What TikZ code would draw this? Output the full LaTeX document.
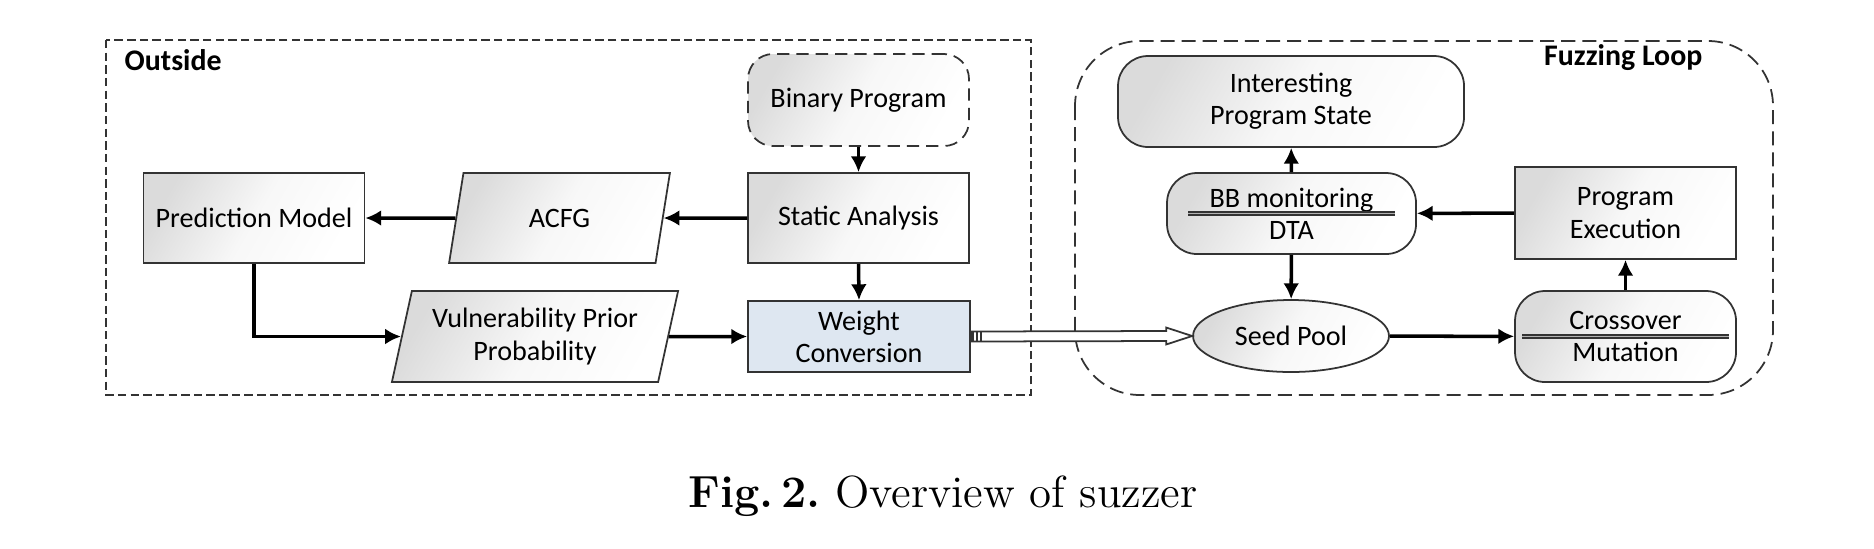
\documentclass[tikz,border=0pt]{standalone}
\usepackage{fontspec}
\newfontfamily\calibri{Carlito}
\usetikzlibrary{arrows.meta}
\usetikzlibrary{calc}
\usetikzlibrary{shapes.geometric}

\definecolor{wcblue}{RGB}{222,231,241}

\begin{document}
\begin{tikzpicture}[
	line/.style={line width=1pt, >={Latex[length=4.5pt,width=4.5pt]}},
	base/.style={draw=black!80, line width=0.5pt, align=center, inner sep=0pt,
		font=\calibri\fontsize{8}{9.2}\selectfont},
	shaded/.style={base, top color=black!14, bottom color=white, middle color=black!3, shading angle=60},
	box/.style={shaded, rectangle, minimum width=2.21cm, minimum height=0.90cm},
	rbox/.style={box, rounded corners=0.3cm},
	para/.style={shaded, trapezium, trapezium stretches=true, minimum height=0.90cm},
	sep/.style={draw=black!80, line width=0.35pt, double=black!30, double distance=0.45pt},
	frame/.style={draw=black!80, line width=0.5pt},
	title/.style={inner sep=0pt, font=\calibri\bfseries\fontsize{8.5}{10}\selectfont}]

	\useasboundingbox (0,0) rectangle (18.74,-5.48);

	% the two groups
	\draw[frame, dash pattern=on 2.4pt off 1.2pt] (1.06,-0.40) rectangle (10.31,-3.95);
	\draw[frame, dash pattern=on 4pt off 2pt, rounded corners=0.65cm] (10.75,-0.41) rectangle (17.73,-3.95);

	\node[title, anchor=base west] (outside) at (1.24,-0.70) {Outside};
	\node[title, anchor=base east] (fuzzing) at (17.03,-0.65) {Fuzzing Loop};

	% outside
	\node[box] (pm) at (2.54,-2.18) {Prediction Model};
	\node[para, trapezium left angle=76, trapezium right angle=104, minimum width=2.21cm] (acfg) at (5.595,-2.18) {ACFG};
	\node[para, trapezium left angle=73.5, trapezium right angle=106.5, minimum width=2.88cm, minimum height=0.91cm] (vpp) at (5.35,-3.365) {Vulnerability Prior\\Probability};
	\node[box, rounded corners=0.25cm, dash pattern=on 3.5pt off 2pt, minimum height=0.92cm] (bp) at (8.585,-1.00) {Binary Program};
	\node[box] (sa) at (8.585,-2.18) {Static Analysis};
	\node[base, fill=wcblue, minimum width=2.22cm, minimum height=0.71cm] (wc) at (8.59,-3.365) {Weight\\Conversion};

	% fuzzing loop
	\node[rbox, minimum width=3.46cm, minimum height=0.91cm] (ips) at (12.91,-1.015) {Interesting\\Program State};
	\node[rbox, minimum width=2.49cm, minimum height=0.81cm] (bb) at (12.915,-2.135) {BB monitoring\\DTA};
	\node[shaded, ellipse, minimum width=1.96cm, minimum height=0.72cm] (sp) at (12.91,-3.36) {Seed Pool};
	\node[box, minimum height=0.92cm] (pe) at (16.255,-2.13) {Program\\Execution};
	\node[rbox, minimum height=0.91cm] (cm) at (16.255,-3.365) {Crossover\\Mutation};

	\draw[sep] ($(bb.west)+(0.22,0)$) -- ($(bb.east)+(-0.22,0)$);
	\draw[sep] ($(cm.west)+(0.08,0)$) -- ($(cm.east)+(-0.08,0)$);

	% connectors
	\draw[->, line] (bp) -- (sa);
	\draw[->, line] (sa) -- (acfg);
	\draw[->, line] (acfg) -- (pm);
	\draw[->, line] (pm.south) |- (vpp.west);
	\draw[->, line] (vpp) -- (wc);
	\draw[->, line] (sa.south) -- (wc.north);
	\draw[->, line] (bb) -- (ips);
	\draw[->, line] (bb) -- (sp);
	\draw[->, line] (sp) -- (cm);
	\draw[->, line] (cm) -- (pe);
	\draw[->, line] (pe) -- (bb);

	% hollow arrow into the loop
	\draw[frame, fill=white]
		($(wc.east)+(0,0.05)$) -- ($(sp.west)+(-0.26,0.05)$) -- ($(sp.west)+(-0.26,0.085)$) --
		(sp.west) --
		($(sp.west)+(-0.26,-0.085)$) -- ($(sp.west)+(-0.26,-0.05)$) -- ($(wc.east)+(0,-0.05)$) -- cycle;
	\foreach \dx in {0.02,0.06,0.10}
		\draw[frame] ($(wc.east)+(\dx,0.05)$) -- ++(0,-0.10);

	\node[anchor=base, inner sep=0pt, font=\fontsize{12.8}{15}\selectfont] (caption) at (9.43,-5.07) {\textbf{Fig.\,2.}\ Overview of suzzer};

\end{tikzpicture}
\end{document}
